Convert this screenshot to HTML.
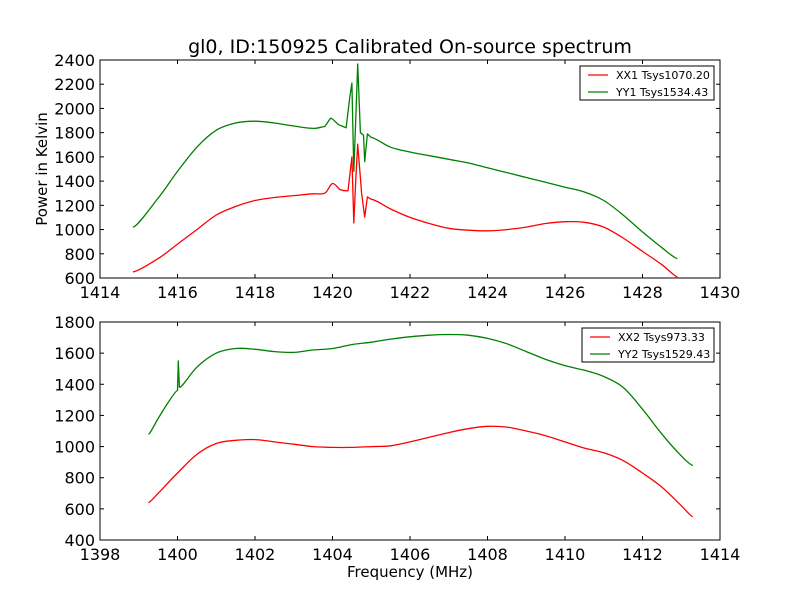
<!DOCTYPE html>
<html><head><meta charset="utf-8"><style>body{margin:0;background:#fff}svg{display:block}text{font-family:"DejaVu Sans","Liberation Sans",sans-serif}</style></head>
<body>
<svg id="c" width="800" height="600" xmlns="http://www.w3.org/2000/svg">
<rect width="800" height="600" fill="#fff"/>
<text x="410" y="53" font-size="19" text-anchor="middle">gl0, ID:150925 Calibrated On-source spectrum</text>
<text x="410" y="577" font-size="15" text-anchor="middle">Frequency (MHz)</text>
<text transform="translate(47,169) rotate(-90)" font-size="15" text-anchor="middle">Power in Kelvin</text>
</svg>
<script>
const topXTicks=[1414,1416,1418,1420,1422,1424,1426,1428,1430];
const topYTicks=[600,800,1000,1200,1400,1600,1800,2000,2200,2400];
const botXTicks=[1398,1400,1402,1404,1406,1408,1410,1412,1414];
const botYTicks=[400,600,800,1000,1200,1400,1600,1800];
const xx1F=[1414.85,1415.5,1416,1416.5,1417,1417.5,1418,1418.5,1419,1419.5,1419.8,1420,1420.2,1420.4,1420.5,1420.55,1420.6,1420.65,1420.75,1420.83,1420.9,1421,1421.5,1422,1422.5,1423,1423.5,1424,1424.5,1425,1425.5,1426,1426.5,1427,1427.5,1428,1428.5,1428.9];
const xx1V=[650,760,880,1000,1120,1190,1240,1265,1280,1295,1300,1380,1330,1320,1600,1054,1400,1706,1300,1103,1270,1250,1170,1100,1050,1010,995,990,1000,1020,1050,1065,1060,1020,930,820,710,610];
const yy1F=[1414.85,1415.5,1416,1416.5,1417,1417.5,1418,1418.5,1419,1419.5,1419.8,1419.95,1420.2,1420.35,1420.45,1420.5,1420.55,1420.6,1420.65,1420.72,1420.8,1420.83,1420.9,1421,1421.5,1422,1422.5,1423,1423.5,1424,1424.5,1425,1425.5,1426,1426.5,1427,1427.5,1428,1428.5,1428.9];
const yy1V=[1020,1260,1480,1680,1820,1880,1895,1880,1855,1835,1850,1920,1860,1840,2100,2210,1480,1900,2367,1800,1780,1560,1790,1760,1680,1640,1610,1580,1550,1510,1470,1430,1390,1350,1310,1240,1120,980,850,760];
const xx2F=[1399.25,1399.5,1400,1400.5,1401,1401.5,1402,1402.5,1403,1403.5,1404,1404.5,1405,1405.5,1406,1406.5,1407,1407.5,1408,1408.5,1409,1409.5,1410,1410.5,1411,1411.5,1412,1412.5,1413,1413.3];
const xx2V=[640,700,830,950,1020,1040,1045,1030,1015,1000,995,995,1000,1005,1030,1060,1090,1115,1130,1125,1100,1070,1030,990,960,910,830,740,620,550];
const yy2F=[1399.25,1399.5,1399.75,1400,1400.02,1400.05,1400.5,1401,1401.5,1402,1402.5,1403,1403.5,1404,1404.5,1405,1405.5,1406,1406.5,1407,1407.5,1408,1408.5,1409,1409.5,1410,1410.5,1411,1411.5,1412,1412.5,1413,1413.3];
const yy2V=[1080,1180,1280,1360,1550,1380,1510,1600,1630,1625,1610,1605,1620,1630,1655,1670,1690,1705,1715,1720,1715,1695,1660,1610,1560,1520,1490,1450,1380,1240,1080,940,880];
const NS='http://www.w3.org/2000/svg';
const svg=document.getElementById('c');
function mk(t,a){const e=document.createElementNS(NS,t);for(const k in a)e.setAttribute(k,a[k]);svg.appendChild(e);return e;}
function smooth(pts){
  let d='M'+pts[0][0].toFixed(1)+','+pts[0][1].toFixed(1);
  for(let i=0;i<pts.length-1;i++){
    const p0=pts[Math.max(0,i-1)],p1=pts[i],p2=pts[i+1],p3=pts[Math.min(pts.length-1,i+2)];
    const sharp=Math.abs(p2[0]-p1[0])<6;
    if(sharp){d+=' L'+p2[0].toFixed(1)+','+p2[1].toFixed(1);continue;}
    const k=1/6;
    const c1=[p1[0]+(p2[0]-p0[0])*k,p1[1]+(p2[1]-p0[1])*k*((Math.abs(p1[0]-p0[0])<6)?0:1)];
    const c2=[p2[0]-(p3[0]-p1[0])*k,p2[1]-(p3[1]-p1[1])*k*((Math.abs(p3[0]-p2[0])<6)?0:1)];
    d+=' C'+c1.map(v=>v.toFixed(1)).join(',')+' '+c2.map(v=>v.toFixed(1)).join(',')+' '+p2[0].toFixed(1)+','+p2[1].toFixed(1);
  }
  return d;
}
function panel(name,x0,x1,y0,y1,L,R,T,B,xt,yt,series,legend,lx,lw){
  const sx=f=>L+(f-x0)/(x1-x0)*(R-L), sy=v=>B-(v-y0)/(y1-y0)*(B-T);
  series.forEach(s=>{
    const p=mk('path',{d:smooth(s.f.map((f,i)=>[sx(f),sy(s.v[i])])),fill:'none',stroke:s.c,'stroke-width':1.3,'stroke-linejoin':'round'});
    
    
  });
  const fr=mk('rect',{x:L,y:T,width:R-L,height:B-T,fill:'none',stroke:'#000','stroke-width':1});
  
  
  xt.forEach(t=>{const x=sx(t);
    mk('line',{x1:x,x2:x,y1:B,y2:B-4,stroke:'#000'});mk('line',{x1:x,x2:x,y1:T,y2:T+4,stroke:'#000'});
    const tx=mk('text',{x:x,y:B+20,'font-size':16,'text-anchor':'middle'});tx.textContent=t;
    
    });
  yt.forEach(t=>{const y=sy(t);
    mk('line',{x1:L,x2:L+4,y1:y,y2:y,stroke:'#000'});mk('line',{x1:R,x2:R-4,y1:y,y2:y,stroke:'#000'});
    const tx=mk('text',{x:L-5,y:y+6,'font-size':16,'text-anchor':'end'});tx.textContent=t;
    
    });
  const lg=mk('rect',{x:lx,y:T+6,width:lw,height:34,fill:'#fff',stroke:'#000'});
  
  
  series.forEach((s,i)=>{const y=T+15+i*17;
    mk('line',{x1:lx+8,x2:lx+28,y1:y,y2:y,stroke:s.c,'stroke-width':1.2});
    const tx=mk('text',{x:lx+36,y:y+4,'font-size':11});tx.textContent=legend[i];
    
    });
}
panel('top-panel',1414,1430,600,2400,100,720,60,278,topXTicks,topYTicks,
 [{f:xx1F,v:xx1V,c:'#ff0000',n:'xx1-line'},{f:yy1F,v:yy1V,c:'#008000',n:'yy1-line'}],
 ['XX1 Tsys1070.20','YY1 Tsys1534.43'],580,134);
panel('bottom-panel',1398,1414,400,1800,100,720,322,540,botXTicks,botYTicks,
 [{f:xx2F,v:xx2V,c:'#ff0000',n:'xx2-line'},{f:yy2F,v:yy2V,c:'#008000',n:'yy2-line'}],
 ['XX2 Tsys973.33','YY2 Tsys1529.43'],582,132);
</script>
</body></html>
